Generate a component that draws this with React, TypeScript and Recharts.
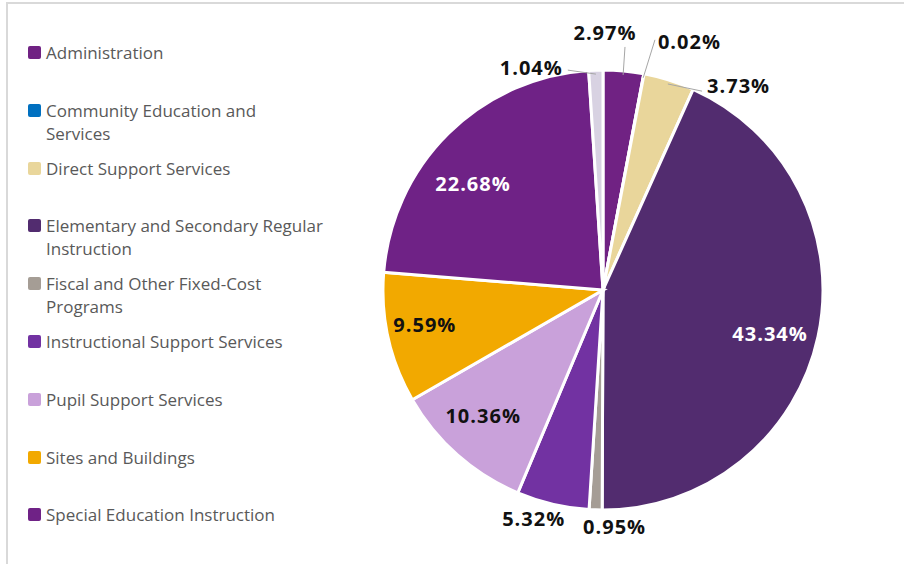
import { Cell, Legend, Pie, PieChart } from 'recharts'

const categories = [
  'Administration',
  'Community Education and Services',
  'Direct Support Services',
  'Elementary and Secondary Regular Instruction',
  'Fiscal and Other Fixed-Cost Programs',
  'Instructional Support Services',
  'Pupil Support Services',
  'Sites and Buildings',
  'Special Education Instruction',
  '',
]
const shares = [2.97, 0.02, 3.73, 43.34, 0.95, 5.32, 10.36, 9.59, 22.68, 1.04]
const colors = [
  '#702283',
  '#0070C0',
  '#E9D69B',
  '#522C6F',
  '#A59D95',
  '#7232A2',
  '#C9A1DA',
  '#F2A900',
  '#6F2286',
  '#D8D2E2',
]
// words on the first legend line (0 = no wrap)
const legendBreakAt = [0, 3, 0, 4, 4, 0, 0, 0, 0]

// label placement: outside labels hang off a leader line, inside ones sit at k * radius
type Placement =
  | { inside: true; k: number; dx: number; dy: number; fill: string }
  | { inside: false; lx: number; ly: number; tx: number; ty: number; anchor: 'start' | 'middle' | 'end'; line: boolean }

const placements: Placement[] = [
  { inside: false, lx: 1.5, ly: -24, tx: -20, ty: -14, anchor: 'middle', line: true },
  { inside: false, lx: 11, ly: -34, tx: 3, ty: 2, anchor: 'start', line: true },
  { inside: false, lx: 33, ly: 11, tx: 5, ty: -6, anchor: 'start', line: true },
  { inside: true, k: 0.777, dx: 0, dy: 7, fill: '#fff' },
  { inside: false, lx: 0, ly: 0, tx: 19, ty: 17, anchor: 'middle', line: false },
  { inside: false, lx: 0, ly: 0, tx: -19, ty: 14, anchor: 'middle', line: false },
  { inside: true, k: 0.823, dx: 0, dy: -10, fill: '#111' },
  { inside: true, k: 0.83, dx: 0, dy: -6, fill: '#111' },
  { inside: true, k: 0.68, dx: -25, dy: 0, fill: '#fff' },
  { inside: false, lx: -28, ly: 0, tx: -5, ty: -3, anchor: 'end', line: true },
]

const data = categories.map((name, i) => ({ name, value: shares[i] }))

// the vertical legend on the left eats this much of the plot offset
const LEGEND_WIDTH = 320

const RADIAN = Math.PI / 180
const labelFont = {
  fontFamily: '"Open Sans", sans-serif',
  fontWeight: 700,
  fontSize: 20,
  letterSpacing: 1,
}

const renderLabel = (props: any) => {
  const { cx, cy, midAngle, outerRadius, index, value } = props
  const p = placements[index]
  const cos = Math.cos(-midAngle * RADIAN)
  const sin = Math.sin(-midAngle * RADIAN)
  const text = `${Number(value).toFixed(2)}%`
  if (p.inside) {
    const x = cx + outerRadius * p.k * cos + p.dx
    const y = cy + outerRadius * p.k * sin + p.dy
    return (
      <text x={x} y={y} fill={p.fill} textAnchor="middle" dominantBaseline="central" style={labelFont}>
        {text}
      </text>
    )
  }
  const ex = cx + outerRadius * cos
  const ey = cy + outerRadius * sin
  const lx = ex + p.lx
  const ly = ey + p.ly
  return (
    <g>
      {p.line && (
        <path
          d={`M${cx + (outerRadius - 4) * cos},${cy + (outerRadius - 4) * sin}L${lx},${ly}`}
          stroke="#A6A6A6"
          strokeWidth={1}
          fill="none"
        />
      )}
      <text x={lx + p.tx} y={ly + p.ty} fill="#111" textAnchor={p.anchor} dominantBaseline="central" style={labelFont}>
        {text}
      </text>
    </g>
  )
}

const renderLegend = () => (
  <div style={{ fontFamily: '"Open Sans", sans-serif', fontSize: 17, color: '#595959', lineHeight: '23px' }}>
    {categories.slice(0, legendBreakAt.length).map((name, i) => {
      const words = name.split(' ')
      const lines = legendBreakAt[i]
        ? [words.slice(0, legendBreakAt[i]).join(' '), words.slice(legendBreakAt[i]).join(' ')]
        : [name]
      return (
        <div key={name} style={{ position: 'relative', height: 57.8, paddingLeft: 18 }}>
          <span
            style={{
              position: 'absolute',
              left: 0,
              top: 5,
              width: 13,
              height: 13,
              borderRadius: 2,
              background: colors[i],
            }}
          />
          {lines.map((l) => (
            <div key={l} style={{ whiteSpace: 'nowrap' }}>
              {l}
            </div>
          ))}
        </div>
      )
    })}
  </div>
)

export default function App() {
  return (
    <div style={{ position: 'absolute', left: 0, top: 0, width: 904, height: 564, overflow: 'hidden', background: '#fff' }}>
      <div
        style={{
          position: 'absolute',
          left: 6,
          top: 2,
          width: 920,
          height: 600,
          borderTop: '2px solid #D9D9D9',
          borderLeft: '2px solid #D9D9D9',
        }}
      />
      <PieChart width={904} height={564} margin={{ top: 0, right: 0, bottom: 0, left: 0 }}>
        <Legend
          layout="vertical"
          align="left"
          verticalAlign="top"
          content={renderLegend}
          wrapperStyle={{ left: 28, top: 41, width: LEGEND_WIDTH }}
        />
        <Pie
          data={data}
          dataKey="value"
          nameKey="name"
          cx={603 - LEGEND_WIDTH}
          cy={290}
          outerRadius={220}
          startAngle={90}
          endAngle={-270}
          stroke="#fff"
          strokeWidth={3}
          label={renderLabel}
          labelLine={false}
          isAnimationActive={false}
        >
          {data.map((d, i) => (
            <Cell key={i} fill={colors[i]} />
          ))}
        </Pie>
      </PieChart>
    </div>
  )
}
